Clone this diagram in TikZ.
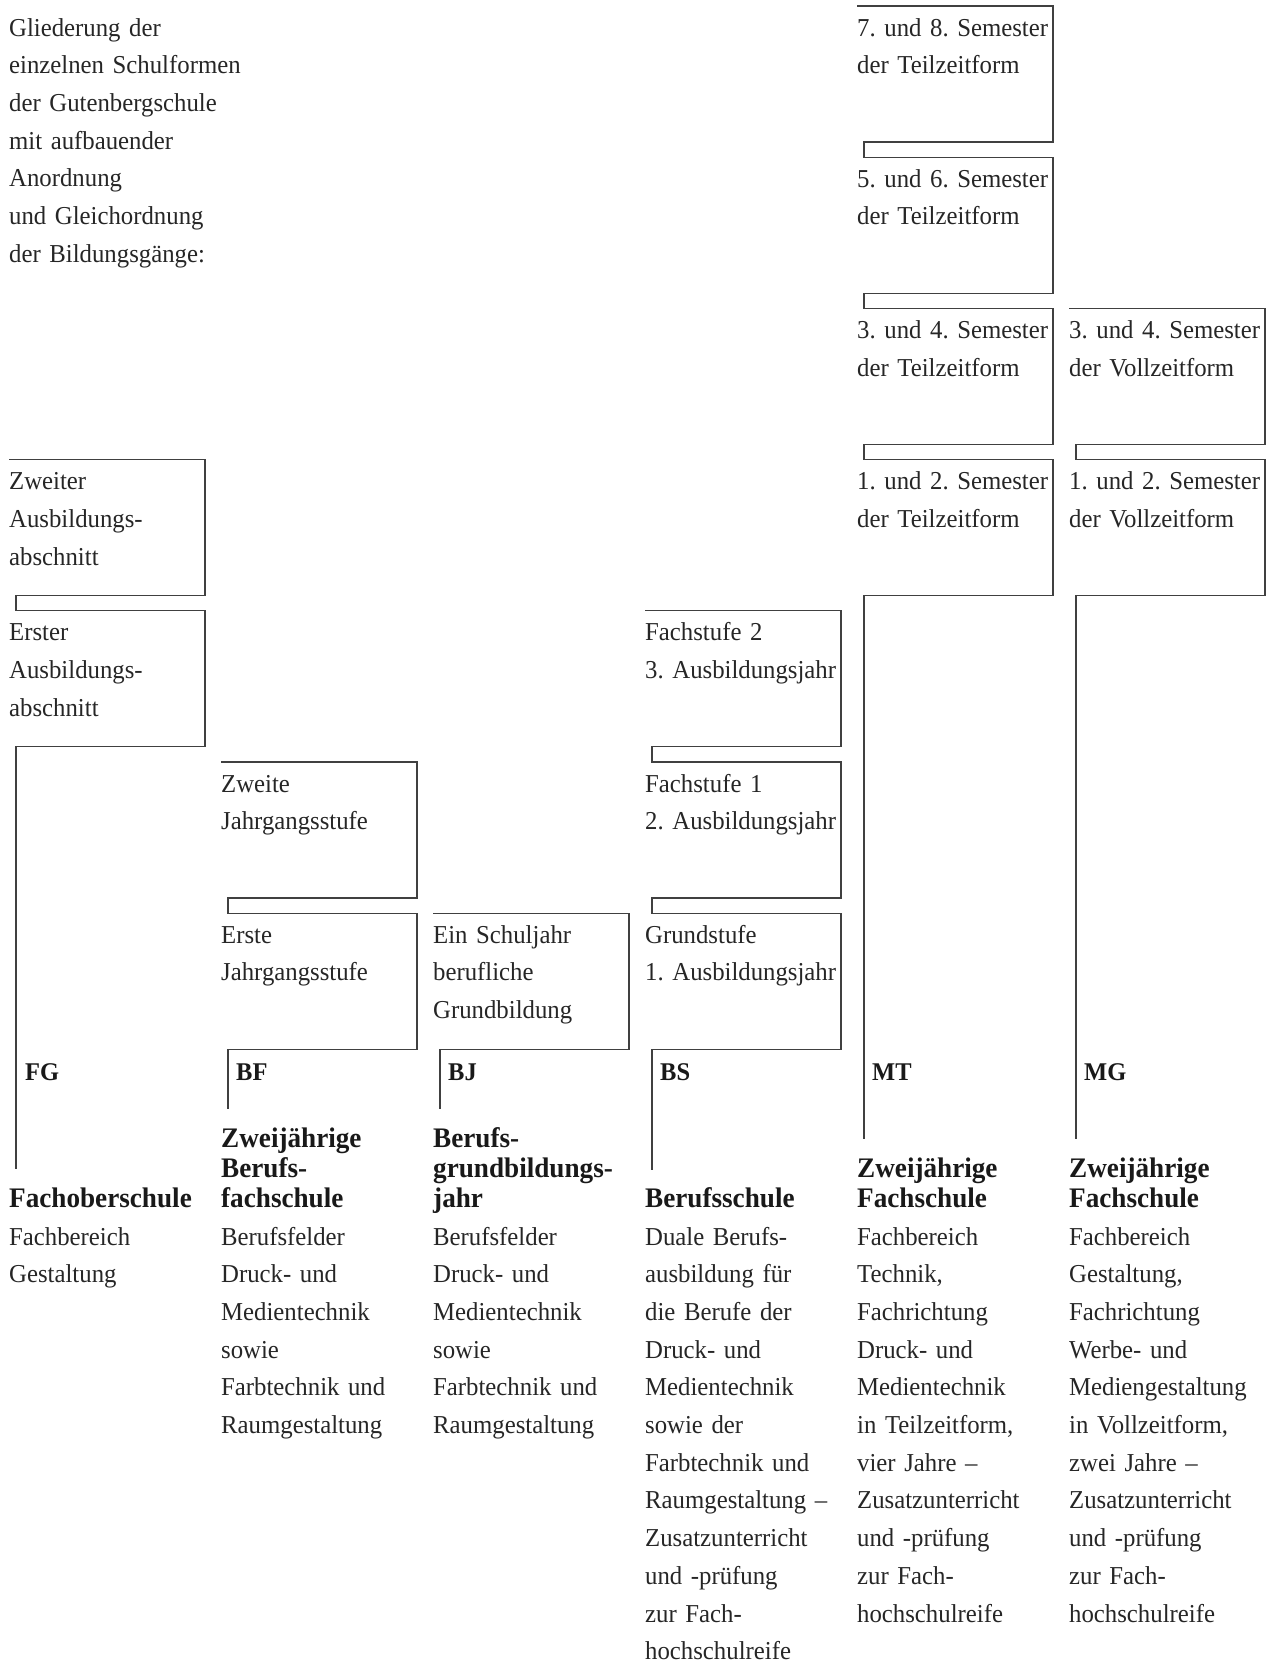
\documentclass[tikz,border=0pt]{standalone}
\usepackage{fontspec}
\setmainfont[WordSpace=0.75, FakeStretch=0.96]{Liberation Serif}
\frenchspacing

\tikzstyle{stage} = [shape=rectangle, anchor=north west, inner sep=0, outer sep=0, minimum width=196pt, minimum height=136pt]
\tikzstyle{stagetext} = [anchor=base west, inner sep=0, align=left, text width=300pt, text=black!85, font={\fontsize{25.8}{37.7}\selectfont}]
\tikzstyle{schoolname} = [anchor=base west, inner sep=0, align=left, text width=300pt, text=black!90, font={\fontsize{28.3}{30}\selectfont\bfseries}]
\tikzstyle{tag} = [anchor=base west, inner sep=0, text=black!90, font={\fontsize{25.5}{30}\selectfont\bfseries}]
\tikzstyle{frame} = [draw=black!75, line width=1.1pt]

\begin{document}
\begin{tikzpicture}[x=1pt, y=-1pt]
\useasboundingbox (0,0) rectangle (1273,1663);

\node [stagetext] (title) at (9,36) {Gliederung der\\einzelnen Schulformen\\der Gutenbergschule\\mit aufbauender\\Anordnung\\und Gleichordnung\\der Bildungsgänge:};

% boxes
\node [stage] (fg2) at (9,459.6) {};
\node [stage] (fg1) at (9,610.8) {};
\node [stage] (bf2) at (221,762) {};
\node [stage] (bf1) at (221,913.2) {};
\node [stage] (bj1) at (433,913.2) {};
\node [stage] (bs3) at (645,610.8) {};
\node [stage] (bs2) at (645,762) {};
\node [stage] (bs1) at (645,913.2) {};
\node [stage] (mt4) at (857,6) {};
\node [stage] (mt3) at (857,157.2) {};
\node [stage] (mt2) at (857,308.4) {};
\node [stage] (mt1) at (857,459.6) {};
\node [stage] (mg2) at (1069,308.4) {};
\node [stage] (mg1) at (1069,459.6) {};

\node [stagetext] (fg2t) at ([yshift=-30pt]fg2.north west) {Zweiter\\Ausbildungs-\\abschnitt};
\node [stagetext] (fg1t) at ([yshift=-30pt]fg1.north west) {Erster\\Ausbildungs-\\abschnitt};
\node [stagetext] (bf2t) at ([yshift=-30pt]bf2.north west) {Zweite\\Jahrgangsstufe};
\node [stagetext] (bf1t) at ([yshift=-30pt]bf1.north west) {Erste\\Jahrgangsstufe};
\node [stagetext] (bj1t) at ([yshift=-30pt]bj1.north west) {Ein Schuljahr\\berufliche\\Grundbildung};
\node [stagetext] (bs3t) at ([yshift=-30pt]bs3.north west) {Fachstufe 2\\3. Ausbildungsjahr};
\node [stagetext] (bs2t) at ([yshift=-30pt]bs2.north west) {Fachstufe 1\\2. Ausbildungsjahr};
\node [stagetext] (bs1t) at ([yshift=-30pt]bs1.north west) {Grundstufe\\1. Ausbildungsjahr};
\node [stagetext] (mt4t) at ([yshift=-30pt]mt4.north west) {7. und 8. Semester\\der Teilzeitform};
\node [stagetext] (mt3t) at ([yshift=-30pt]mt3.north west) {5. und 6. Semester\\der Teilzeitform};
\node [stagetext] (mt2t) at ([yshift=-30pt]mt2.north west) {3. und 4. Semester\\der Teilzeitform};
\node [stagetext] (mt1t) at ([yshift=-30pt]mt1.north west) {1. und 2. Semester\\der Teilzeitform};
\node [stagetext] (mg2t) at ([yshift=-30pt]mg2.north west) {3. und 4. Semester\\der Vollzeitform};
\node [stagetext] (mg1t) at ([yshift=-30pt]mg1.north west) {1. und 2. Semester\\der Vollzeitform};

% line ends
\coordinate (fgend) at (16,1169);
\coordinate (bfend) at (228,1109);
\coordinate (bjend) at (440,1109);
\coordinate (bsend) at (652,1170);
\coordinate (mtend) at (864,1139);
\coordinate (mgend) at (1076,1139);

\draw [frame] (fg2.north west) -- (fg2.north east) -- (fg2.south east) -- ([xshift=7pt]fg2.south west) -- ([xshift=7pt]fg1.north west) -- (fg1.north east) -- (fg1.south east) -- ([xshift=7pt]fg1.south west) -- (fgend);
\draw [frame] (bf2.north west) -- (bf2.north east) -- (bf2.south east) -- ([xshift=7pt]bf2.south west) -- ([xshift=7pt]bf1.north west) -- (bf1.north east) -- (bf1.south east) -- ([xshift=7pt]bf1.south west) -- (bfend);
\draw [frame] (bj1.north west) -- (bj1.north east) -- (bj1.south east) -- ([xshift=7pt]bj1.south west) -- (bjend);
\draw [frame] (bs3.north west) -- (bs3.north east) -- (bs3.south east) -- ([xshift=7pt]bs3.south west) -- ([xshift=7pt]bs2.north west) -- (bs2.north east) -- (bs2.south east) -- ([xshift=7pt]bs2.south west) -- ([xshift=7pt]bs1.north west) -- (bs1.north east) -- (bs1.south east) -- ([xshift=7pt]bs1.south west) -- (bsend);
\draw [frame] (mt4.north west) -- (mt4.north east) -- (mt4.south east) -- ([xshift=7pt]mt4.south west) -- ([xshift=7pt]mt3.north west) -- (mt3.north east) -- (mt3.south east) -- ([xshift=7pt]mt3.south west) -- ([xshift=7pt]mt2.north west) -- (mt2.north east) -- (mt2.south east) -- ([xshift=7pt]mt2.south west) -- ([xshift=7pt]mt1.north west) -- (mt1.north east) -- (mt1.south east) -- ([xshift=7pt]mt1.south west) -- (mtend);
\draw [frame] (mg2.north west) -- (mg2.north east) -- (mg2.south east) -- ([xshift=7pt]mg2.south west) -- ([xshift=7pt]mg1.north west) -- (mg1.north east) -- (mg1.south east) -- ([xshift=7pt]mg1.south west) -- (mgend);

% short names
\node [tag] (fg) at (25,1080) {FG};
\node [tag] (bf) at (236,1080) {BF};
\node [tag] (bj) at (448,1080) {BJ};
\node [tag] (bs) at (660,1080) {BS};
\node [tag] (mt) at (872,1080) {MT};
\node [tag] (mg) at (1084,1080) {MG};

% school forms
\node [schoolname] (fgname) at (9,1207) {Fachoberschule};
\node [schoolname] (bfname) at (221,1147) {Zweijährige\\Berufs-\\fachschule};
\node [schoolname] (bjname) at (433,1147) {Berufs-\\grundbildungs-\\jahr};
\node [schoolname] (bsname) at (645,1207) {Berufsschule};
\node [schoolname] (mtname) at (857,1177) {Zweijährige\\Fachschule};
\node [schoolname] (mgname) at (1069,1177) {Zweijährige\\Fachschule};

\node [stagetext] (fgtext) at (9,1245) {Fachbereich\\Gestaltung};
\node [stagetext] (bftext) at (221,1245) {Berufsfelder\\Druck- und\\Medientechnik\\sowie\\Farbtechnik und\\Raumgestaltung};
\node [stagetext] (bjtext) at (433,1245) {Berufsfelder\\Druck- und\\Medientechnik\\sowie\\Farbtechnik und\\Raumgestaltung};
\node [stagetext] (bstext) at (645,1245) {Duale Berufs-\\ausbildung für\\die Berufe der\\Druck- und\\Medientechnik\\sowie der\\Farbtechnik und\\Raumgestaltung –\\Zusatzunterricht\\und -prüfung\\zur Fach-\\hochschulreife};
\node [stagetext] (mttext) at (857,1245) {Fachbereich\\Technik,\\Fachrichtung\\Druck- und\\Medientechnik\\in Teilzeitform,\\vier Jahre –\\Zusatzunterricht\\und -prüfung\\zur Fach-\\hochschulreife};
\node [stagetext] (mgtext) at (1069,1245) {Fachbereich\\Gestaltung,\\Fachrichtung\\Werbe- und\\Mediengestaltung\\in Vollzeitform,\\zwei Jahre –\\Zusatzunterricht\\und -prüfung\\zur Fach-\\hochschulreife};
\end{tikzpicture}
\end{document}
